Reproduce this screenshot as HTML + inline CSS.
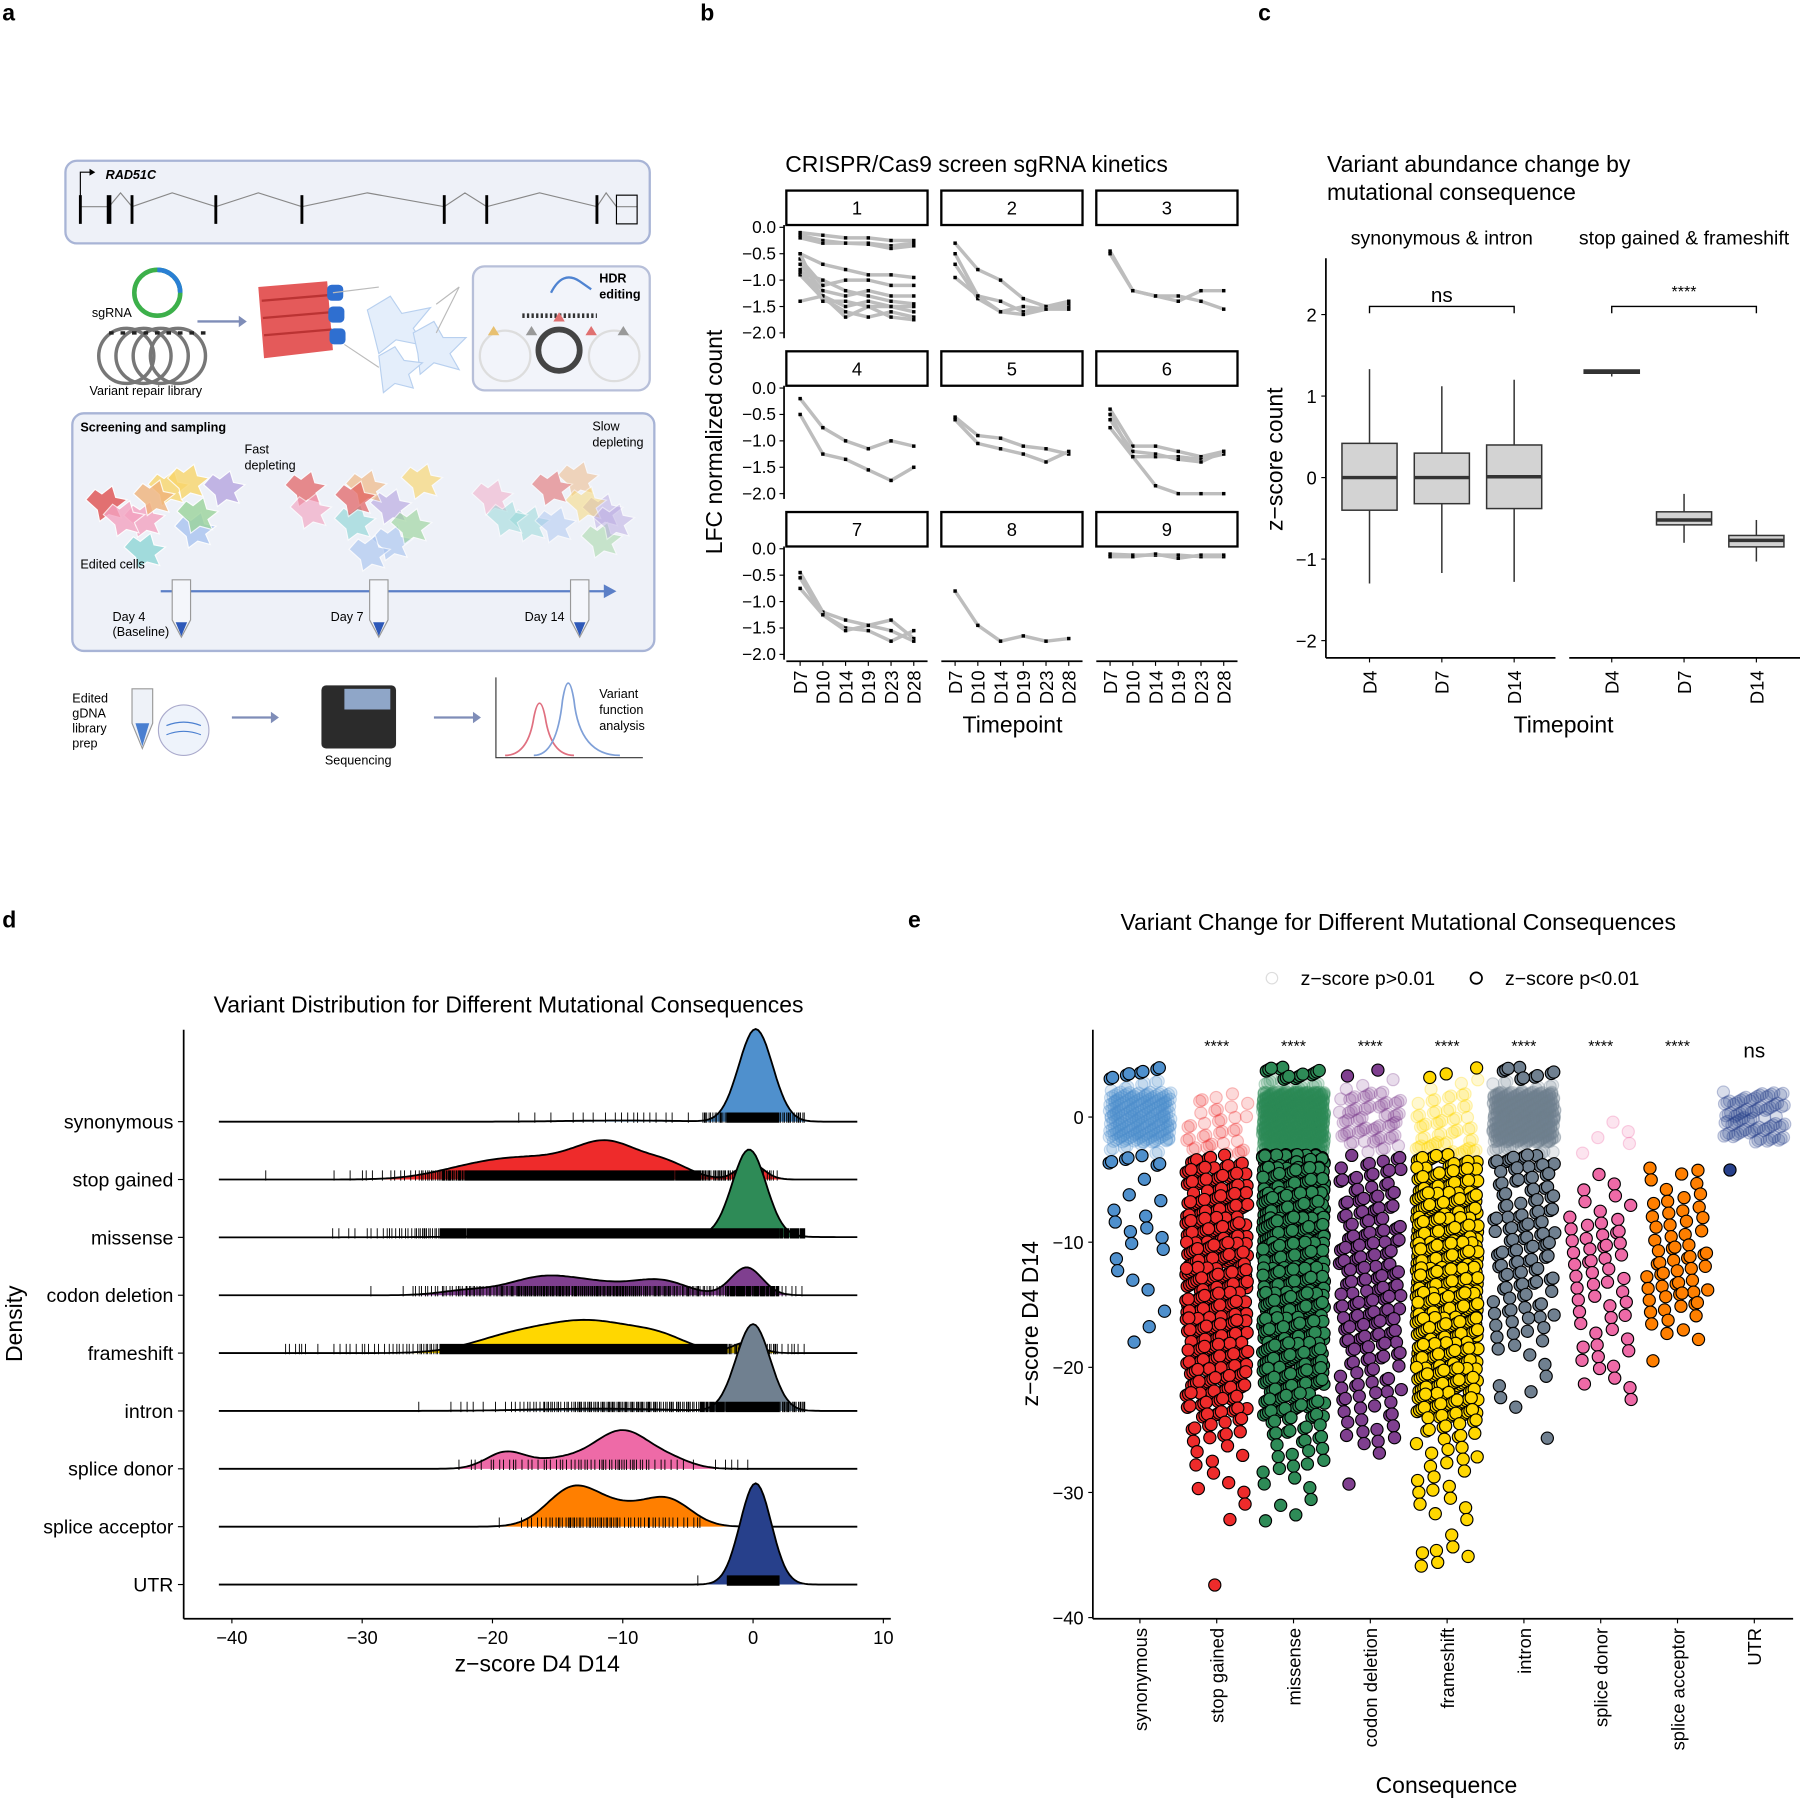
<!DOCTYPE html>
<html><head><meta charset="utf-8">
<style>
html,body{margin:0;padding:0;background:#fff;}
svg{display:block;font-family:"Liberation Sans",Arial,sans-serif;}
</style></head>
<body>
<svg id="fig" xmlns="http://www.w3.org/2000/svg" width="1800" height="1799" viewBox="0 0 1568 1567" preserveAspectRatio="none">
<rect width="1568" height="1567" fill="#fff"/>
<g font-weight="bold" font-size="20">
<text x="2" y="18">a</text><text x="610" y="18">b</text><text x="1096" y="18">c</text>
<text x="2" y="808">d</text><text x="791" y="808">e</text>
</g>
<g id="pa" font-size="11">
 <rect x="57" y="140" width="509" height="72" rx="10" fill="#eef1f8" stroke="#a8b4d6" stroke-width="2"/>
 <text x="92" y="156" font-style="italic" font-weight="bold">RAD51C</text>
 <path d="M70 178 V150 H80" stroke="#000" fill="none"/><path d="M78 147 L83 150 L78 153Z"/>
 <path d="M70 180 H95 L105 168 L115 180 L150 168 L188 180 L225 168 L263 180 L320 168 L387 180 L405 168 L424 180 L470 168 L520 180 L528 168 L537 180 H555" stroke="#888" fill="none"/>
 <g stroke="#000" stroke-width="2.5"><line x1="70" y1="170" x2="70" y2="195"/><line x1="95" y1="170" x2="95" y2="195" stroke-width="4"/><line x1="115" y1="170" x2="115" y2="195"/><line x1="188" y1="170" x2="188" y2="195"/><line x1="263" y1="170" x2="263" y2="195"/><line x1="387" y1="170" x2="387" y2="195"/><line x1="424" y1="170" x2="424" y2="195"/><line x1="520" y1="170" x2="520" y2="195"/></g>
 <rect x="537" y="170" width="18" height="25" fill="none" stroke="#000"/>
 <circle cx="137" cy="255" r="20" fill="none" stroke="#3cb04a" stroke-width="4"/>
 <path d="M137 235 A20 20 0 0 1 157 255" fill="none" stroke="#2a7fd4" stroke-width="4"/>
 <text x="80" y="276">sgRNA</text>
 <g fill="none" stroke="#777" stroke-width="3"><circle cx="110" cy="310" r="24"/><circle cx="125" cy="310" r="24"/><circle cx="140" cy="310" r="24"/><circle cx="155" cy="310" r="24"/></g>
 <path d="M95 290 H180" stroke="#222" stroke-width="3" stroke-dasharray="4 6"/>
 <text x="78" y="344">Variant repair library</text>
 <path d="M172 280 H210" stroke="#7f8db8" stroke-width="2"/><path d="M208 275 L215 280 L208 285Z" fill="#7f8db8"/>
 <g>
  <path d="M225 250 L285 245 L290 305 L230 312Z" fill="#e45a5a"/>
  <path d="M228 262 L287 257 M229 277 L288 272 M230 292 L289 287" stroke="#b33" stroke-width="2"/>
  <rect x="285" y="248" width="14" height="14" rx="4" fill="#2f6fd0"/><rect x="286" y="267" width="14" height="14" rx="4" fill="#2f6fd0"/><rect x="287" y="286" width="14" height="14" rx="4" fill="#2f6fd0"/>
 </g>
 <g fill="#e4eefb" stroke="#b8d0ef"><path d="M320 270 l20 -12 l10 15 l25 -5 l-15 18 l10 15 l-25 -5 l-15 12 l-5 -20z"/><path d="M360 290 l18 -10 l8 14 l20 0 l-14 14 l8 14 l-22 -6 l-12 10 l-2 -18z"/><path d="M330 310 l14 -8 l8 12 l16 2 l-12 10 l4 12 l-16 -4 l-10 8 z"/></g>
 <path d="M290 255 L330 250 M300 300 L330 320 M380 265 L400 250 L380 290" stroke="#bbb" fill="none"/>
 <rect x="412" y="232" width="154" height="108" rx="10" fill="#f2f4fa" stroke="#b7bfd9" stroke-width="2"/>
 <text x="522" y="246" font-weight="bold">HDR</text><text x="522" y="260" font-weight="bold">editing</text>
 <path d="M480 255 Q490 235 505 245 L515 252" stroke="#4f83d1" fill="none" stroke-width="2"/>
 <path d="M455 275 H520" stroke="#333" stroke-width="4" stroke-dasharray="2 2"/>
 <g fill="none" stroke="#ddd" stroke-width="2"><circle cx="440" cy="310" r="22"/><circle cx="535" cy="310" r="22"/></g>
 <circle cx="487" cy="305" r="18" fill="none" stroke="#444" stroke-width="5"/>
 <path d="M425 292 l5 -8 l5 8z" fill="#e8c070"/><path d="M458 292 l5 -8 l5 8z" fill="#999"/><path d="M482 280 l5 -8 l5 8z" fill="#e07070"/><path d="M510 292 l5 -8 l5 8z" fill="#e07070"/><path d="M538 292 l5 -8 l5 8z" fill="#999"/>
 <rect x="63" y="360" width="507" height="207" rx="10" fill="#eef1f8" stroke="#a8b4d6" stroke-width="2"/>
 <text x="70" y="376" font-weight="bold">Screening and sampling</text>
 <text x="213" y="395">Fast</text><text x="213" y="409">depleting</text>
 <text x="516" y="375">Slow</text><text x="516" y="389">depleting</text>
 <g id="cells"></g>
 <text x="70" y="495">Edited cells</text>
 <path d="M140 515 H528" stroke="#5b7fc7" stroke-width="2"/><path d="M526 509 L537 515 L526 521Z" fill="#5b7fc7"/>
 <g fill="#f4f6fb" stroke="#999"><path d="M150 505 h16 v35 l-8 15 l-8 -15z"/><path d="M322 505 h16 v35 l-8 15 l-8 -15z"/><path d="M497 505 h16 v35 l-8 15 l-8 -15z"/></g>
 <g fill="#2d58b8"><path d="M153 542 h10 l-5 12z"/><path d="M325 542 h10 l-5 12z"/><path d="M500 542 h10 l-5 12z"/></g>
 <text x="98" y="541">Day 4</text><text x="98" y="554">(Baseline)</text><text x="288" y="541">Day 7</text><text x="457" y="541">Day 14</text>
 <text x="63" y="612">Edited</text><text x="63" y="625">gDNA</text><text x="63" y="638">library</text><text x="63" y="651">prep</text>
 <path d="M115 600 h18 v30 l-9 22 l-9 -22z" fill="#eef2f8" stroke="#999"/><path d="M118 630 h12 l-6 20z" fill="#4a7fd0"/>
 <circle cx="160" cy="636" r="22" fill="#eef3fb" stroke="#aac"/>
 <path d="M145 632 q15 -6 30 0 M145 640 q15 -6 30 0" stroke="#4a7fd0" fill="none"/>
 <path d="M202 625 H238" stroke="#7f8db8" stroke-width="2"/><path d="M236 620 L243 625 L236 630Z" fill="#7f8db8"/>
 <rect x="280" y="597" width="65" height="55" rx="4" fill="#2b2b2b"/><rect x="300" y="600" width="40" height="18" fill="#8fa6c8"/>
 <text x="283" y="666">Sequencing</text>
 <path d="M378 625 H414" stroke="#7f8db8" stroke-width="2"/><path d="M412 620 L419 625 L412 630Z" fill="#7f8db8"/>
 <path d="M432 590 V660 H560" stroke="#333" fill="none"/>
 <path d="M440 658 Q460 658 465 625 Q470 600 475 625 Q480 658 500 658" stroke="#e07080" fill="none" stroke-width="1.5"/>
 <path d="M465 658 Q485 658 490 610 Q495 580 500 610 Q505 658 540 658" stroke="#7fa0d8" fill="none" stroke-width="1.5"/>
 <text x="522" y="608">Variant</text><text x="522" y="622">function</text><text x="522" y="636">analysis</text>
</g>

<g id="pb"></g>
<g id="pc"></g>
<g id="pd"></g>
<g id="pe"></g>
</svg>
<script>
// ---------- data: panel b ----------
const timepoints = ["D7","D10","D14","D19","D23","D28"];
const bTicks = [0.0,-0.5,-1.0,-1.5,-2.0];
const facet1 = [[-0.1,-0.15,-0.2,-0.2,-0.25,-0.25],[-0.15,-0.25,-0.3,-0.3,-0.35,-0.3],[-0.2,-0.3,-0.3,-0.32,-0.4,-0.35],[-0.5,-0.7,-0.8,-0.9,-0.9,-0.95],[-0.6,-1.1,-1.0,-1.0,-1.1,-1.1],[-0.7,-1.2,-1.3,-1.2,-1.3,-1.3],[-0.8,-1.3,-1.5,-1.4,-1.5,-1.5],[-0.9,-1.35,-1.6,-1.7,-1.6,-1.7],[-1.4,-1.3,-1.7,-1.5,-1.7,-1.75],[-0.5,-1.4,-1.4,-1.5,-1.5,-1.6],[-0.85,-1.0,-1.2,-1.3,-1.4,-1.45]];
const facet2 = [[-0.3,-0.8,-1.0,-1.35,-1.5,-1.5],[-0.5,-1.3,-1.4,-1.6,-1.5,-1.4],[-0.7,-1.35,-1.6,-1.5,-1.55,-1.45],[-0.95,-1.3,-1.6,-1.65,-1.55,-1.55]];
const facet3 = [[-0.45,-1.2,-1.3,-1.3,-1.4,-1.55],[-0.5,-1.2,-1.3,-1.4,-1.2,-1.2]];
const facet4 = [[-0.2,-0.75,-1.0,-1.15,-1.0,-1.1],[-0.5,-1.25,-1.35,-1.55,-1.75,-1.5]];
const facet5 = [[-0.55,-0.9,-0.95,-1.1,-1.15,-1.25],[-0.6,-1.05,-1.15,-1.25,-1.4,-1.2]];
const facet6 = [[-0.4,-1.1,-1.1,-1.2,-1.3,-1.2],[-0.5,-1.3,-1.3,-1.3,-1.35,-1.25],[-0.6,-1.2,-1.25,-1.35,-1.4,-1.2],[-0.75,-1.3,-1.85,-2.0,-2.0,-2.0]];
const facet7 = [[-0.45,-1.2,-1.35,-1.45,-1.35,-1.7],[-0.55,-1.25,-1.5,-1.55,-1.75,-1.55],[-0.75,-1.25,-1.55,-1.45,-1.55,-1.75]];
const facet8 = [[-0.8,-1.45,-1.75,-1.65,-1.75,-1.7]];
const facet9 = [[-0.1,-0.12,-0.12,-0.12,-0.15,-0.15],[-0.15,-0.15,-0.1,-0.18,-0.12,-0.12]];
// ---------- data: panel c ----------
const cGroups = ["synonymous & intron","stop gained & frameshift"];
const cDays = ["D4","D7","D14"];
const cTicks = [2,1,0,-1,-2];
const synMin = [-1.3,-1.17,-1.28], synQ1=[-0.4,-0.32,-0.38], synMed=[0,0,0.01], synQ3=[0.42,0.3,0.4], synMax=[1.33,1.12,1.2];
const stopMin = [1.24,-0.8,-1.03], stopQ1=[1.28,-0.58,-0.85], stopMed=[1.3,-0.52,-0.77], stopQ3=[1.32,-0.42,-0.71], stopMax=[1.32,-0.2,-0.52];
const cSig = ["ns","****"];
// ---------- data: panels d/e ----------
const consequences = ["synonymous","stop gained","missense","codon deletion","frameshift","intron","splice donor","splice acceptor","UTR"];
const eSig = ["","****","****","****","****","****","****","****","ns"];
const binTops = [4,2,0,-2,-4,-6,-8,-10,-12,-14,-16,-18,-20,-22,-24,-26,-28,-30,-32,-34,-36];
const cntSynonymous = [15,120,120,15,1,4,4,3,3,1,2,0,0,0,0,0,0,0,0,0,0];
const cntStop = [0,10,15,20,35,45,60,70,65,60,55,45,35,25,12,5,4,1,1,0,1];
const cntMissense = [30,400,400,200,150,130,120,110,100,90,80,70,55,35,15,8,5,3,1,0,0];
const cntCodon = [5,30,30,12,15,18,20,22,22,22,22,15,12,10,8,2,1,0,0,0,0];
const cntFrameshift = [6,15,20,40,55,70,85,95,100,95,90,80,65,45,12,8,6,4,2,6,0];
const cntIntron = [18,250,250,30,15,15,18,18,15,12,8,4,3,2,1,0,0,0,0,0,0];
const cntDonor = [0,0,3,2,3,4,10,10,8,6,5,6,4,1,0,0,0,0,0,0,0];
const cntAcceptor = [0,0,0,0,6,8,8,12,12,10,5,1,0,0,0,0,0,0,0,0,0];
const cntUTR = [0,45,45,0,1,0,0,0,0,0,0,0,0,0,0,0,0,0,0,0,0];
const counts = [cntSynonymous,cntStop,cntMissense,cntCodon,cntFrameshift,cntIntron,cntDonor,cntAcceptor,cntUTR];
const densSynonymous = [[0.2,1.3,1.6],[-10,4,0.02]];
const densStop = [[-11,2.5,0.55],[-17,4,0.35],[-6.5,1.8,0.22],[-0.2,1,0.28],[-22,3,0.1]];
const densMissense = [[-0.3,1.3,1.5],[-10,8,0.04]];
const densCodon = [[-0.5,1.2,0.48],[-16.5,2.5,0.26],[-12,3,0.2],[-7,2,0.22],[-22,2,0.08]];
const densFrameshift = [[-12.5,4,0.55],[-19,3,0.2],[-0.5,1,0.18],[-7,2,0.15]];
const densIntron = [[0,1.3,1.5],[-12,5,0.04]];
const densDonor = [[-10,2.2,0.66],[-19,1.5,0.28],[-15,2,0.15],[-6,1.5,0.1]];
const densAcceptor = [[-13.8,2,0.66],[-6.5,1.8,0.44],[-10,2,0.28]];
const densUTR = [[0.2,1.2,1.75]];
const dens = [densSynonymous,densStop,densMissense,densCodon,densFrameshift,densIntron,densDonor,densAcceptor,densUTR];
const dTicks = [-40,-30,-20,-10,0,10];
const eTicks = [0,-10,-20,-30,-40];
const colors = ["#4f90cd","#ee2b2b","#2e8b57","#7f3f8f","#ffd700","#708090","#ee6aa7","#ff7f00","#27408b"];

const NS="http://www.w3.org/2000/svg";
function mk(tag, attrs, parent){const e=document.createElementNS(NS,tag);for(const k in attrs)e.setAttribute(k,attrs[k]);parent.appendChild(e);return e;}
function txt(s, attrs, parent){const e=mk('text',attrs,parent);e.textContent=s;return e;}

(function(){
 const g=document.getElementById('cells');
 const cc=["#9bd49b","#f4a3c0","#f9d66b","#a9c4f0","#e05050","#b7a6e0","#8fd6d6","#f0b37a"];
 const centres=[[140,440,1],[320,440,0.8],[490,440,0.6]];
 let k=0;
 centres.forEach(c=>{for(let i=0;i<10;i++){k++;const a=k*2.399,r=12+(k*7)%45;const x=c[0]+Math.cos(a)*r*1.3,y=c[1]+Math.sin(a)*r*0.7;
  const p=mk('path',{d:`M${x-14} ${y} l8 -9 l6 4 l9 -7 l3 10 l10 2 l-9 7 l4 9 l-11 -3 l-8 6 l-2 -10z`,fill:cc[k%8],opacity:c[2]*0.8,stroke:"#fff"},g);
  
  }});
})();

(function(){
 const g=document.getElementById('pb');
 const facets=[facet1,facet2,facet3,facet4,facet5,facet6,facet7,facet8,facet9];
 const t=txt("CRISPR/Cas9 screen sgRNA kinetics",{x:684,y:150,"font-size":20},g);
 
 
 const colX=[685,820,955], stripW=123;
 function yS(r,v){return 198+140*r - v*46;}
 function xS(c,i){return colX[c]+12+i*19.8;}
 for(let f=0;f<9;f++){
  const r=Math.floor(f/3), c=f%3;
  const s=mk('rect',{x:colX[c],y:166+140*r,width:stripW,height:30,fill:"#fff",stroke:"#000","stroke-width":2},g);
  
  
  txt(String(f+1),{x:colX[c]+stripW/2,y:187+140*r,"font-size":16,"text-anchor":"middle"},g);
  facets[f].forEach((line,li)=>{
   const pts=line.map((v,i)=>xS(c,i)+","+yS(r,v)).join(" ");
   const pl=mk('polyline',{points:pts,fill:"none",stroke:"#bdbdbd","stroke-width":3,"stroke-linejoin":"round"},g);
   
   
   line.forEach((v,i)=>{const q=mk('rect',{x:xS(c,i)-1.5,y:yS(r,v)-1.5,width:3,height:3,fill:"#000"},g);
    
    });
  });
  if(c===0){
   const ax=mk('line',{x1:683,y1:196+140*r,x2:683,y2:yS(r,-2.1),stroke:"#000","stroke-width":1.5},g);
   
   
   bTicks.forEach(v=>{mk('line',{x1:679,y1:yS(r,v),x2:683,y2:yS(r,v),stroke:"#000"},g);
    txt(v.toFixed(1).replace('-','\u2212'),{x:676,y:yS(r,v)+5,"font-size":15,"text-anchor":"end"},g);});
  }
  if(r===2){
   const ax=mk('line',{x1:colX[c],y1:576,x2:colX[c]+stripW,y2:576,stroke:"#000","stroke-width":1.5},g);
   
   
   timepoints.forEach((tp,i)=>{mk('line',{x1:xS(c,i),y1:576,x2:xS(c,i),y2:580,stroke:"#000"},g);
    txt(tp,{transform:`translate(${xS(c,i)+6},584) rotate(-90)`,"font-size":16,"text-anchor":"end"},g);});
  }
 }
 const xt=txt("Timepoint",{x:882,y:638,"font-size":20,"text-anchor":"middle"},g);
 
 
 const yt=txt("LFC normalized count",{transform:"translate(629,385) rotate(-90)","font-size":20,"text-anchor":"middle"},g);
 
 
})();

(function(){
 const g=document.getElementById('pc');
 const yS=v=>416-v*71;
 const xs=[[1193,1256,1319],[1404,1467,1530]];
 const t1=txt("Variant abundance change by",{x:1156,y:150,"font-size":20},g);
 
 
 txt("mutational consequence",{x:1156,y:174,"font-size":20},g);
 txt(cGroups[0],{x:1256,y:213,"font-size":17,"text-anchor":"middle"},g);
 txt(cGroups[1],{x:1467,y:213,"font-size":17,"text-anchor":"middle"},g);
 const ya=mk('line',{x1:1155,y1:225,x2:1155,y2:573,stroke:"#000","stroke-width":1.5},g);
 
 
 cTicks.forEach(v=>{mk('line',{x1:1151,y1:yS(v),x2:1155,y2:yS(v),stroke:"#000"},g);
  txt(String(v).replace('-','\u2212'),{x:1147,y:yS(v)+6,"font-size":16,"text-anchor":"end"},g);});
 [[1155,1355],[1367,1568]].forEach((r,i)=>{const a=mk('line',{x1:r[0],y1:573,x2:r[1],y2:573,stroke:"#000","stroke-width":1.5},g);
  
  });
 const sets=[[synMin,synQ1,synMed,synQ3,synMax],[stopMin,stopQ1,stopMed,stopQ3,stopMax]];
 sets.forEach((s,gi)=>{
  for(let i=0;i<3;i++){
   const x=xs[gi][i];
   mk('line',{x1:x,y1:yS(s[0][i]),x2:x,y2:yS(s[4][i]),stroke:"#333","stroke-width":1.3},g);
   const b=mk('rect',{x:x-24,y:yS(s[3][i]),width:48,height:Math.max(1,yS(s[1][i])-yS(s[3][i])),fill:"#d3d3d3",stroke:"#333","stroke-width":1.3},g);
   
   
   mk('line',{x1:x-24,y1:yS(s[2][i]),x2:x+24,y2:yS(s[2][i]),stroke:"#333","stroke-width":3},g);
   mk('line',{x1:x,y1:573,x2:x,y2:577,stroke:"#000"},g);
   txt(cDays[i],{transform:`translate(${x+6},584) rotate(-90)`,"font-size":16,"text-anchor":"end"},g);
  }
  const yb=yS(2.1);
  const br=mk('path',{d:`M${xs[gi][0]} ${yb+6} V${yb} H${xs[gi][2]} V${yb+6}`,fill:"none",stroke:"#000","stroke-width":1.2},g);
  
  
  txt(cSig[gi],{x:xs[gi][1],y:yb-(gi?8:4),"font-size":gi?14:18,"text-anchor":"middle"},g);
 });
 const xt=txt("Timepoint",{x:1362,y:638,"font-size":20,"text-anchor":"middle"},g);
 
 
 const yt=txt("z\u2212score count",{transform:"translate(1117,400) rotate(-90)","font-size":20,"text-anchor":"middle"},g);
 
 
})();

const frac=v=>v-Math.floor(v);
const points=[];
(function(){let gidx=0;counts.forEach((cnt,k)=>{const arr=[];cnt.forEach((n,i)=>{for(let j=0;j<n;j++){gidx++;arr.push({z:binTops[i]-2*frac(gidx*0.61803+k*0.137),j:frac(gidx*0.75488+0.31*k)*2-1});}});points.push(arr);});})();

(function(){
 const g=document.getElementById('pd');
 const xS=v=>656+v*11.35;
 const base=k=>977+k*50.4;
 const t=txt("Variant Distribution for Different Mutational Consequences",{x:443,y:882,"font-size":20,"text-anchor":"middle"},g);
 
 
 consequences.forEach((name,k)=>{
  const b=base(k);
  let d=`M${xS(-41)} ${b}`;
  for(let z=-41;z<=8.001;z+=0.2){let h=0;dens[k].forEach(c=>{h+=c[2]*Math.exp(-0.5*((z-c[0])/c[1])**2);});d+=` L${xS(z).toFixed(1)} ${(b-h*50.4).toFixed(1)}`;}
  const area=mk('path',{d:d+` L${xS(8)} ${b} Z`,fill:colors[k],stroke:"none"},g);
  
  
  const rug=mk('g',{stroke:"#000","stroke-width":0.8},g);
  
  
  let rd="";points[k].forEach(p=>{const x=xS(p.z).toFixed(1);rd+=`M${x} ${b-8}V${b+1}`;});
  mk('path',{d:rd},rug);
  const ol=mk('path',{d:d,fill:"none",stroke:"#000","stroke-width":1.6},g);
  
  
  mk('line',{x1:155,y1:b,x2:160,y2:b,stroke:"#000"},g);
  txt(name,{x:151,y:b+6,"font-size":17,"text-anchor":"end"},g);
 });
 const ya=mk('line',{x1:160,y1:897,x2:160,y2:1410,stroke:"#000","stroke-width":1.5},g);
 
 
 const xa=mk('line',{x1:160,y1:1410,x2:776,y2:1410,stroke:"#000","stroke-width":1.5},g);
 
 
 dTicks.forEach(v=>{mk('line',{x1:xS(v),y1:1410,x2:xS(v),y2:1414,stroke:"#000"},g);
  txt(String(v).replace('-','\u2212'),{x:xS(v),y:1432,"font-size":16,"text-anchor":"middle"},g);});
 const xt=txt("z\u2212score D4 D14",{x:468,y:1456,"font-size":20,"text-anchor":"middle"},g);
 
 
 const yt=txt("Density",{transform:"translate(19,1153) rotate(-90)","font-size":20,"text-anchor":"middle"},g);
 
 
})();

(function(){
 const g=document.getElementById('pe');
 const yS=v=>973-v*10.9;
 const xS=k=>993+k*66.9;
 const t=txt("Variant Change for Different Mutational Consequences",{x:1218,y:810,"font-size":20,"text-anchor":"middle"},g);
 
 
 const l1=mk('circle',{cx:1108,cy:852,r:5,fill:"none",stroke:"#ddd"},g);
 
 
 txt("z\u2212score p>0.01",{x:1133,y:858,"font-size":17},g);
 const l2=mk('circle',{cx:1286,cy:852,r:5,fill:"none",stroke:"#000","stroke-width":1.5},g);
 
 
 txt("z\u2212score p<0.01",{x:1311,y:858,"font-size":17},g);
 const faded=mk('g',{},g), solid=mk('g',{},g);
 
 
 
 
 consequences.forEach((name,k)=>{
  points[k].forEach(p=>{
   const ns=p.z>-3&&p.z<3;
   const c=mk('circle',{cx:(xS(k)+p.j*27).toFixed(1),cy:yS(p.z).toFixed(1),r:5.3,fill:colors[k],"fill-opacity":ns?0.18:1,stroke:ns?colors[k]:"#000","stroke-opacity":ns?0.3:1,"stroke-width":1},ns?faded:solid);
   
   
  });
  if(eSig[k]){const s=txt(eSig[k],{x:xS(k),y:eSig[k]==="ns"?921:916,"font-size":eSig[k]==="ns"?18:14,"text-anchor":"middle"},g);
   
   }
  mk('line',{x1:xS(k),y1:1410,x2:xS(k),y2:1414,stroke:"#000"},g);
  const lb=txt(name,{transform:`translate(${xS(k)+6},1418) rotate(-90)`,"font-size":16,"text-anchor":"end"},g);
  
  
 });
 const ya=mk('line',{x1:952,y1:897,x2:952,y2:1410,stroke:"#000","stroke-width":1.5},g);
 
 
 const xa=mk('line',{x1:952,y1:1410,x2:1562,y2:1410,stroke:"#000","stroke-width":1.5},g);
 
 
 eTicks.forEach(v=>{mk('line',{x1:948,y1:yS(v),x2:952,y2:yS(v),stroke:"#000"},g);
  txt(String(v).replace('-','\u2212'),{x:944,y:yS(v)+6,"font-size":16,"text-anchor":"end"},g);});
 const xt=txt("Consequence",{x:1260,y:1562,"font-size":20,"text-anchor":"middle"},g);
 
 
 const yt=txt("z\u2212score D4 D14",{transform:"translate(904,1153) rotate(-90)","font-size":20,"text-anchor":"middle"},g);
 
 
})();
</script>
</body></html>
